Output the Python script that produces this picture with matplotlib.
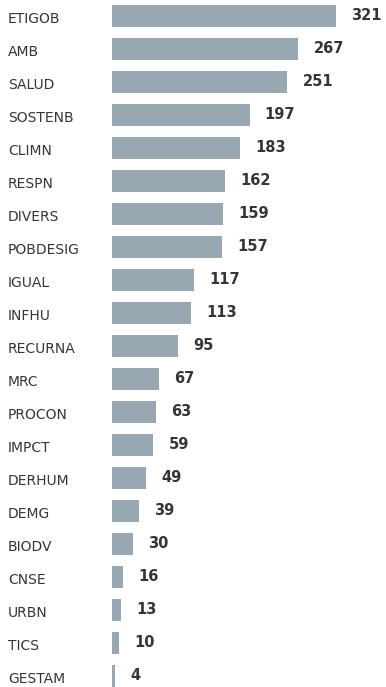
import matplotlib
matplotlib.use("Agg")
import matplotlib.pyplot as plt
import matplotlib.transforms as mtransforms

categories = ["ETIGOB", "AMB", "SALUD", "SOSTENB", "CLIMN", "RESPN", "DIVERS",
              "POBDESIG", "IGUAL", "INFHU", "RECURNA", "MRC", "PROCON", "IMPCT",
              "DERHUM", "DEMG", "BIODV", "CNSE", "URBN", "TICS", "GESTAM"]
values = [321, 267, 251, 197, 183, 162, 159, 157, 117, 113, 95, 67, 63, 59,
          49, 39, 30, 16, 13, 10, 4]

bar_color = "#97a8b2"
text_color = "#353535"
plt.rcParams['font.family'] = ['DejaVu Sans']

W, H = 386, 687
fig = plt.figure(figsize=(W / 100, H / 100), dpi=100)
ax = fig.add_axes([112 / W, 0, 1 - 112 / W, 1])

y = list(range(len(categories)))
ax.barh(y, values, height=0.64, color=bar_color)
ax.set_xlim(0, 274 / 0.698)
ax.set_ylim(20 + 11 / 33, -16 / 33)
ax.axis("off")

for yi, v in zip(y, values):
    ax.annotate(str(v), (v, yi), xytext=(11, 0.5), textcoords="offset points",
                ha="left", va="center", fontsize=10.5, fontweight="bold",
                color=text_color)

trans = mtransforms.blended_transform_factory(fig.transFigure, ax.transData)
for yi, c in zip(y, categories):
    ax.annotate(c, (8 / W, yi), xycoords=trans, xytext=(0, -2.5),
                textcoords="offset points", ha="left", va="center",
                fontsize=10, color=text_color)

fig.savefig("out.png", dpi=100)
